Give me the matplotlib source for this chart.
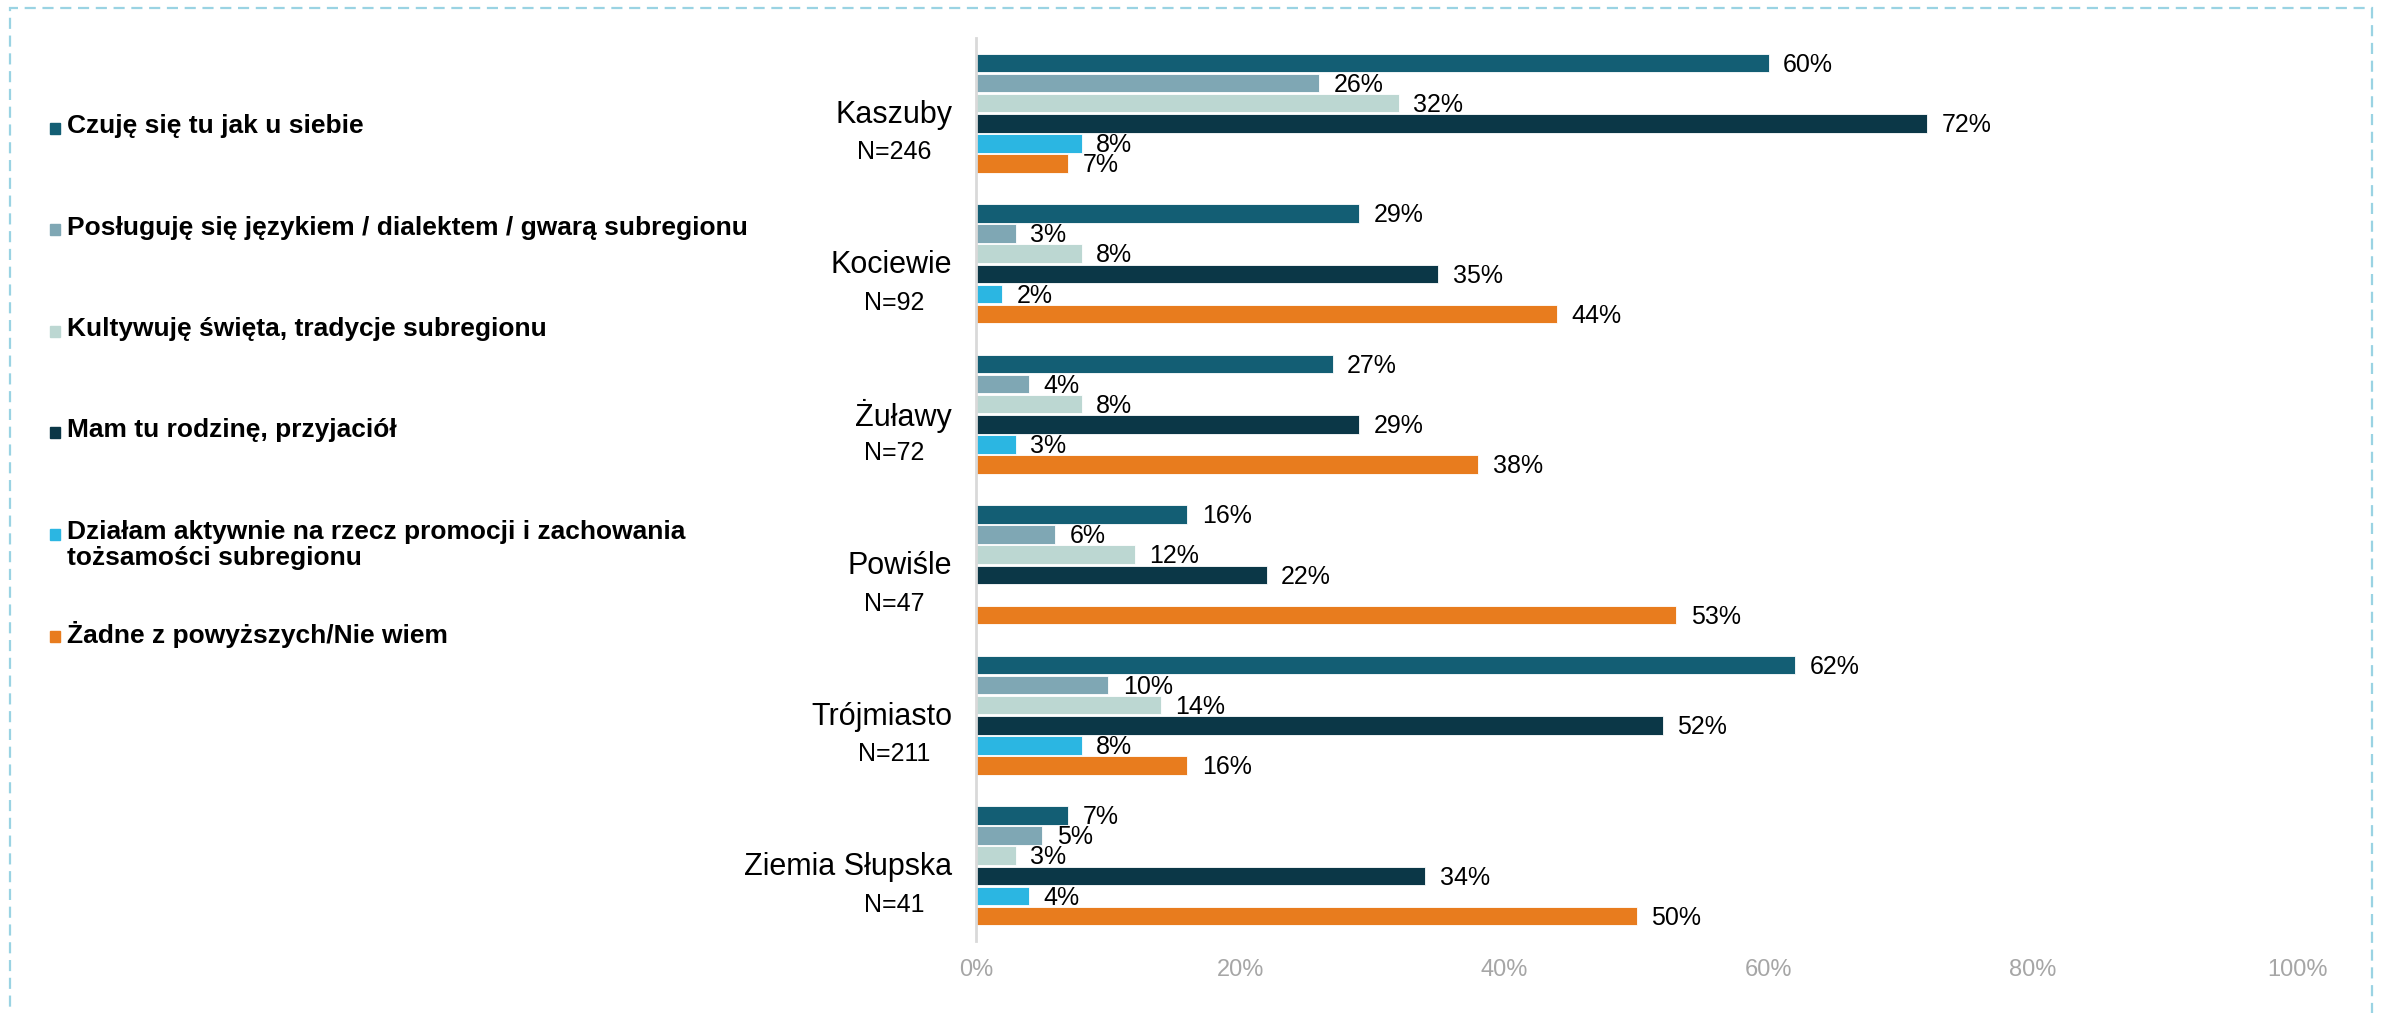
import numpy as np
import matplotlib
matplotlib.use("Agg")
import matplotlib.pyplot as plt
from matplotlib import font_manager
from matplotlib.patches import Rectangle

# data
regions = ["Kaszuby", "Kociewie", "Żuławy", "Powiśle", "Trójmiasto", "Ziemia Słupska"]
sample_n = ["N=246", "N=92", "N=72", "N=47", "N=211", "N=41"]
series_names = [
    "Czuję się tu jak u siebie",
    "Posługuję się językiem / dialektem / gwarą subregionu",
    "Kultywuję święta, tradycje subregionu",
    "Mam tu rodzinę, przyjaciół",
    "Działam aktywnie na rzecz promocji i zachowania\ntożsamości subregionu",
    "Żadne z powyższych/Nie wiem",
]
czuje = [60, 29, 27, 16, 62, 7]
poslugue = [26, 3, 4, 6, 10, 5]
kultywuje = [32, 8, 8, 12, 14, 3]
rodzina = [72, 35, 29, 22, 52, 34]
dzialam = [8, 2, 3, np.nan, 8, 4]
zadne = [7, 44, 38, 53, 16, 50]
series = [czuje, poslugue, kultywuje, rodzina, dzialam, zadne]
colors = ["#135E74", "#7FA7B4", "#BCD7D2", "#0B3747", "#2BB6E2", "#E87C1E"]
xticks = [0, 20, 40, 60, 80, 100]

# font: narrow Arial look-alike if available
names = {f.name for f in font_manager.fontManager.ttflist}
fam = "Liberation Sans Narrow" if "Liberation Sans Narrow" in names else "Liberation Sans"
plt.rcParams["font.family"] = [fam, "DejaVu Sans"]

W, H = 2381, 1013
fig = plt.figure(figsize=(W / 100, H / 100), dpi=100)
ax = fig.add_axes([976 / W, 1 - 941 / H, (2297 - 976) / W, (941 - 38) / H])

step = 0.134
bar_h = 0.124
y_centers = np.arange(len(regions))
for j, (vals, col) in enumerate(zip(series, colors)):
    ys = y_centers + (j - 2.5) * step
    v = np.array(vals, dtype=float)
    ax.barh(ys, np.nan_to_num(v), height=bar_h, color=col, edgecolor="white", linewidth=0.6)
    for y, val in zip(ys, v):
        if np.isnan(val):
            continue
        ax.text(val + 1.1, y + 0.012, f"{int(val)}%", va="center", ha="left", fontsize=18, color="black")

ax.set_ylim(len(regions) - 0.5, -0.5)
ax.set_xlim(0, 100)
ax.set_yticks([])
ax.set_xticks(xticks)
ax.set_xticklabels([f"{t}%" for t in xticks], fontsize=17, color="#A6A6A6")
ax.tick_params(axis="x", length=0, pad=13)
for s in ["top", "right", "bottom"]:
    ax.spines[s].set_visible(False)
ax.spines["left"].set_color("#D9D9D9")
ax.spines["left"].set_linewidth(2)

# region names and sample sizes
trans = ax.get_yaxis_transform()
for i, (r, n) in enumerate(zip(regions, sample_n)):
    ax.text(-0.018, i + 0.01, r, transform=trans, ha="right", va="center", fontsize=22)
    ax.text(-0.062, i + 0.26, n, transform=trans, ha="center", va="center", fontsize=18)

# legend drawn by hand
for i, (name, col) in enumerate(zip(series_names, colors)):
    yc = 128 + 101.5 * i
    fig.patches.append(Rectangle((50 / W, 1 - (yc + 6) / H), 10 / W, 11 / H,
                                 transform=fig.transFigure, color=col))
    fig.text(67 / W, 1 - (yc - 14) / H, name, ha="left", va="top", fontsize=19,
             fontweight="bold", linespacing=1.12)

# dashed frame
fig.patches.append(Rectangle((10 / W, -0.05), (2372 - 10) / W, 1 - 8 / H + 0.05,
                             transform=fig.transFigure, fill=False,
                             edgecolor="#9AD3E3", linestyle=(0, (5, 3)), linewidth=1.6))

fig.savefig("out.png", dpi=100)
